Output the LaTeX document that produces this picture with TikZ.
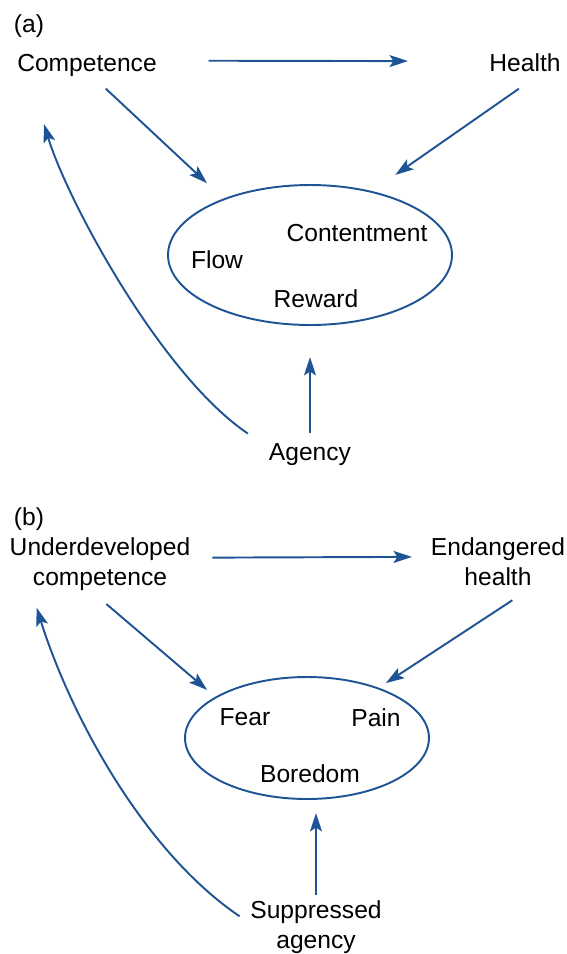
\documentclass[tikz,border=0pt]{standalone}
\usepackage{fontspec}
\setmainfont{Liberation Sans}
\usetikzlibrary{positioning,shapes.geometric,arrows.meta}
\definecolor{arrowblue}{RGB}{30,84,148}
\tikzset{font=\fontsize{14}{17}\selectfont}

\begin{document}
\begin{tikzpicture}[x=0.02cm, y=-0.02cm,
	txt/.style={inner sep=0pt, outer sep=0pt, align=center},
	arr/.style={draw=arrowblue, line width=1.1pt, -{Stealth[length=10.5pt, width=6.8pt, inset=2.2pt]}},
	oval/.style={draw=arrowblue, line width=1.1pt, ellipse, inner sep=0pt, outer sep=0pt}]
	\useasboundingbox (0,0) rectangle (566,954);

	\begin{scope}
		\tikzstyle{every node}=[txt]
		\node (lblA) at (29,26) {(a)};
		\node (comp) at (87,65.5) {Competence};
		\node (health) at (525,62.5) {Health};
		\node[oval, minimum width=5.68cm, minimum height=2.8cm] (ellA) at (310,255) {};
		\node (cont) at (357,233.5) {Contentment};
		\node (flow) at (217,260) {Flow};
		\node (reward) at (316,299) {Reward};
		\node (agency) at (310,455) {Agency};

		\draw[arr, shorten <=1.04cm, shorten >=1.63cm] (comp.4) -- (health.178);
		\draw[arr, shorten <=0.35cm, shorten >=0.47cm] (comp.-62) -- (ellA.147);
		\draw[arr, shorten <=0.6cm, shorten >=0.59cm] (health.-26) -- (ellA.46);
		\draw[arr, shorten <=0.22cm, shorten >=0.64cm] (agency) -- (agency |- ellA.south);
		\draw[arr, shorten <=0.51cm, shorten >=0.99cm] (agency.170) .. controls (161,375) and (67,200) .. (comp.191);
	\end{scope}

	\begin{scope}
		\tikzstyle{every node}=[txt]
		\node (lblB) at (29,519.5) {(b)};
		\node (under) at (100,564) {Underdeveloped\\competence};
		\node (endang) at (498,561.5) {Endangered\\health};
		\node[oval, minimum width=4.88cm, minimum height=2.44cm] (ellB) at (307,738) {};
		\node (fear) at (245,717.5) {Fear};
		\node (pain) at (376,717.5) {Pain};
		\node (boredom) at (310,774) {Boredom};
		\node (supp) at (316,927) {Suppressed\\agency};

		\draw[arr, shorten <=0.44cm, shorten >=0.38cm] (under.4) -- (endang.176);
		\draw[arr, shorten <=0.42cm, shorten >=0.23cm] (under.-110) -- (ellB.156);
		\draw[arr, shorten <=0.54cm, shorten >=0.19cm] (endang.-33) -- (ellB.35);
		\draw[arr, shorten <=0.12cm, shorten >=0.28cm] (supp) -- (supp |- ellB.south);
		\draw[arr, shorten <=0.26cm, shorten >=0.36cm] (supp.177) .. controls (143,851) and (70,714) .. (under.201);
	\end{scope}
\end{tikzpicture}
\end{document}
